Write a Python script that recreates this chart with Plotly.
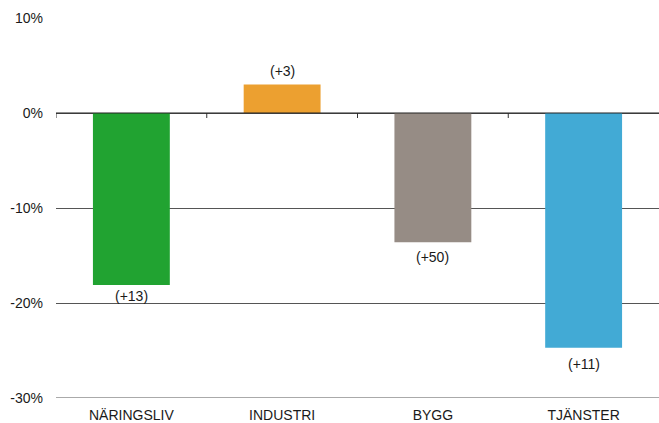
import plotly.graph_objects as go

# Sectors, change in percent and the count shown beside each bar
categories = ["NÄRINGSLIV", "INDUSTRI", "BYGG", "TJÄNSTER"]
values = [-18.1, 3.0, -13.6, -24.7]
counts = ["(+13)", "(+3)", "(+50)", "(+11)"]
colors = ["#21a331", "#eca030", "#968c85", "#42aad5"]
label_gap = [11, 14, 15, 16]  # pixel gap from bar end to label centre

y_ticks = [10, 0, -10, -20, -30]
y_tick_labels = ["10%", "0%", "-10%", "-20%", "-30%"]

font = dict(family="Liberation Sans, Arial, sans-serif", size=14, color="#1a1a1a")

fig = go.Figure(
    go.Bar(
        x=categories,
        y=values,
        marker=dict(color=colors, line=dict(width=0)),
        width=0.51,
        hoverinfo="skip",
    )
)

# Count labels just beyond the end of each bar
annotations = []
for cat, v, txt, gap in zip(categories, values, counts, label_gap):
    annotations.append(
        dict(
            x=cat,
            y=v,
            xref="x",
            yref="y",
            text=txt,
            showarrow=False,
            font=font,
            yanchor="middle",
            yshift=gap if v > 0 else -gap,
        )
    )

shapes = []
# Small downward ticks on the zero line between the categories
for k in range(len(categories)):
    shapes.append(
        dict(
            type="line",
            xref="x",
            yref="y",
            x0=k - 0.5,
            x1=k - 0.5,
            ysizemode="pixel",
            yanchor=0,
            y0=0,
            y1=-5,
            line=dict(color="#333333", width=1),
        )
    )
# Zero line and the bottom grid line
shapes.append(
    dict(type="line", xref="paper", yref="y", x0=0, x1=1, y0=0, y1=0,
         line=dict(color="#222222", width=1.2))
)
shapes.append(
    dict(type="line", xref="paper", yref="y", x0=0, x1=1, y0=-30, y1=-30,
         line=dict(color="#555555", width=1))
)

fig.update_layout(
    width=659,
    height=423,
    margin=dict(l=56, r=0, t=18, b=25),
    paper_bgcolor="white",
    plot_bgcolor="white",
    font=font,
    showlegend=False,
    bargap=0.49,
    shapes=shapes,
    annotations=annotations,
    xaxis=dict(
        showgrid=False,
        showline=False,
        ticks="",
        tickfont=font,
        ticklabelstandoff=7,
        range=[-0.5, 3.5],
    ),
    yaxis=dict(
        range=[-30, 10],
        tickvals=y_ticks,
        ticktext=y_tick_labels,
        showgrid=True,
        gridcolor="#555555",
        gridwidth=1,
        zeroline=False,
        showline=False,
        ticks="",
        ticklabelstandoff=12,
        tickfont=font,
    ),
)

fig.write_html("out.html")
